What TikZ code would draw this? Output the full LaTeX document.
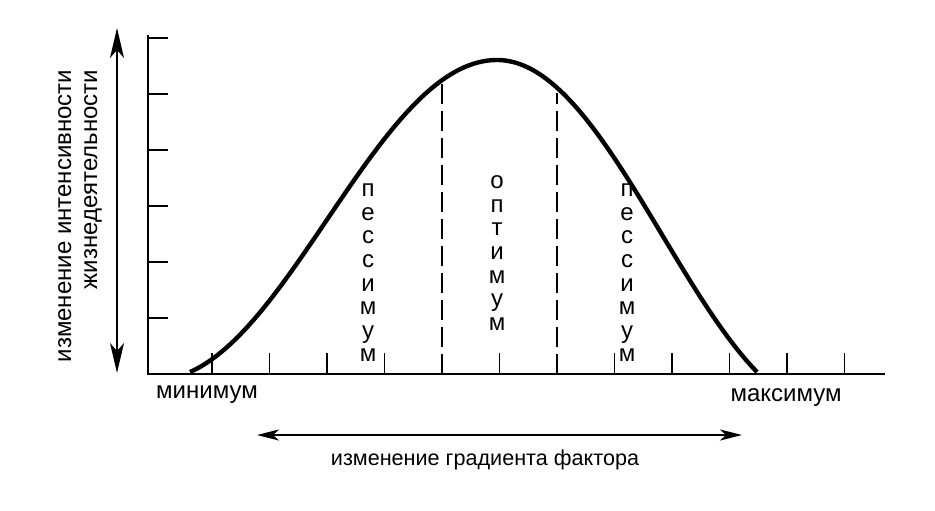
\documentclass[tikz,border=0pt]{standalone}
\usepackage{fontspec}
\setmainfont{Liberation Sans}
\usetikzlibrary{arrows.meta}
\begin{document}
\begin{tikzpicture}[x=0.5pt,y=0.5pt,
    axis/.style={line width=1.4pt},
    tick/.style={line width=0.9pt},
    bound/.style={line width=0.9pt, dash pattern=on 10pt off 3.5pt},
    curve/.style={line width=2.2pt, line join=round},
    vdouble/.style={line width=1pt, {Stealth[length=15pt,width=7pt,inset=4pt]}-{Stealth[length=15pt,width=7pt,inset=4pt]}},
    hdouble/.style={line width=1pt, {Stealth[length=11pt,width=5.5pt,inset=3pt]}-{Stealth[length=11pt,width=5.5pt,inset=3pt]}},
    lbl/.style={font=\fontsize{12}{13}\selectfont, inner sep=0pt},
    column/.style={inner sep=0pt, align=center, font=\fontsize{12}{11.8}\selectfont}]
  \useasboundingbox (0,0) rectangle (935,510);
  % axes
  \coordinate (O) at (148,136);
  \coordinate (ytop) at (148,475);
  \coordinate (xend) at (885,136);
  \draw[axis] (ytop) -- (O) -- (xend);
  \foreach \y in {192,248,...,472}
    \draw[tick] (148,\y) -- ++(20,0);
  \foreach \i in {0,1,2,3,5,7,8,9,10,11}
    \draw[tick] (212+57.5*\i,136) -- ++(0,21);
  % optimum zone
  \draw[bound] (442,136) -- (442,427);
  \draw[bound] (557,136) -- (557,417);
  % tolerance curve
  \draw[curve]
    plot[domain=190:497, samples=80] (\x, {138+159.7*(cos(((\x-497)/340)*180)+0.9537)})
    -- plot[domain=497:757, samples=80] (\x, {138+174.7*(cos(((\x-497)/330)*180)+0.786)});
  % zone labels
  \node[column] (pessleft) at (368,237) {п\\е\\с\\с\\и\\м\\у\\м};
  \node[column] (optimum) at (497,257) {о\\п\\т\\и\\м\\у\\м};
  \node[column] (pessright) at (627,237) {п\\е\\с\\с\\и\\м\\у\\м};
  \node[lbl] (minimum) at (207,115) {минимум};
  \node[lbl] (maximum) at (786,112) {максимум};
  % factor gradient
  \coordinate (gl) at (257,75);
  \coordinate (gr) at (742,75);
  \draw[hdouble] (gl) -- (gr);
  \node[lbl, font=\fontsize{10.8}{13}\selectfont] (gradient) at (485,50) {изменение градиента фактора};
  % vital activity
  \coordinate (vt) at (117,482);
  \coordinate (vb) at (117,137);
  \draw[vdouble] (vb) -- (vt);
  \node[lbl, rotate=90, align=right] (intensity) at (80,294)
    {изменение интенсивности\\жизнедеятельности};
\end{tikzpicture}
\end{document}
